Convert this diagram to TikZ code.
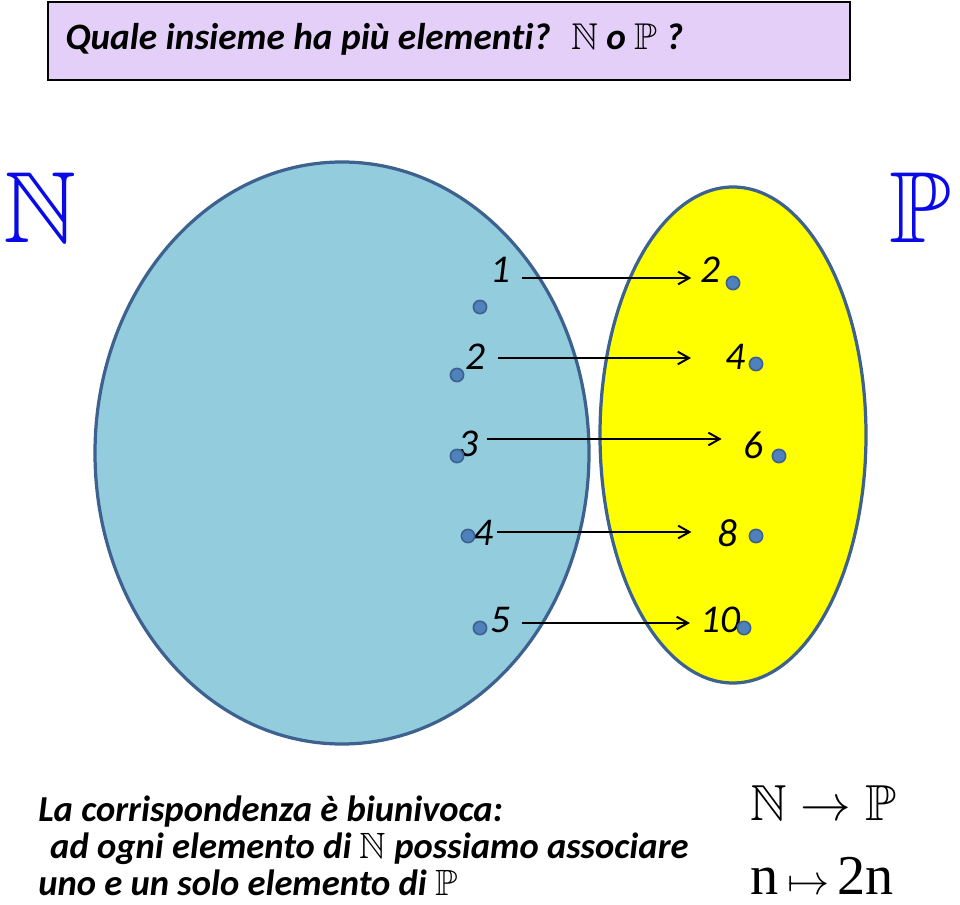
\documentclass[tikz,border=0pt]{standalone}
\usepackage{fix-cm}
\usepackage{amsmath}
\usepackage{amssymb}
\usepackage{fontspec}
\setmainfont{Carlito}[Ligatures=NoCommon]
\newfontfamily\romfont{Liberation Serif}
\usepackage{tikz}
\usetikzlibrary{positioning}
\usetikzlibrary{arrows.meta}

\definecolor{lilla}{HTML}{E3CFF8}
\definecolor{azzurro}{HTML}{93CDDD}
\definecolor{bordo}{HTML}{3D6290}
\definecolor{giallo}{HTML}{FFFF00}
\definecolor{puntino}{HTML}{4F81BD}
\definecolor{blu}{HTML}{0A0AE8}

\tikzset{
  insieme/.style={draw=bordo, line width=2.3pt},
  punto/.style={circle, draw=bordo, fill=puntino, line width=1.2pt, minimum size=0.33cm, inner sep=0pt},
  numero/.style={font=\itshape\fontsize{28}{30}\selectfont, inner sep=0pt},
  freccia/.style={-{Straight Barb[length=8pt, width=9pt]}, line width=1.4pt},
  scritta/.style={font=\bfseries\itshape\fontsize{26}{26.2}\selectfont, inner sep=0pt, anchor=base west},
  lettera/.style={inner sep=0pt, text=blu, font=\fontsize{72}{72}\selectfont}
}

\begin{document}
\begin{tikzpicture}[x=0.025cm, y=-0.025cm]
  \useasboundingbox (0,0) rectangle (960,905);

  % titolo
  \draw[fill=lilla, line width=1.4pt] (48,2) rectangle (850,80);
  \node[scritta, font=\bfseries\itshape\fontsize{26.5}{28}\selectfont] (domanda) at (65,50)
    {Quale insieme ha più elementi?\hspace{0.55em}$\mathbb{N}$ o $\mathbb{P}$ ?};

  % insiemi
  \draw[insieme, fill=azzurro] (342,453) ellipse [x radius=247, y radius=291];
  \draw[insieme, fill=giallo] (733,435) ellipse [x radius=133, y radius=248];

  \node[lettera, anchor=south west] (Ngrande) at (3,243) {$\mathbb{N}$};
  \node[lettera, anchor=south east] (Pgrande) at (952,243) {$\mathbb{P}$};

  % etichette
  \foreach \n/\x/\y in {1/500/270, 2/475/357, 3/468/444, 4/483/533, 5/500/620}
    \node[numero] (na\n) at (\x,\y) {\n};
  \foreach \n/\t/\x/\y in {1/2/710/270, 2/4/735/357, 3/6/753/445, 4/8/727/533, 5/10/720/620}
    \node[numero] (nb\n) at (\x,\y) {\t};

  % elementi
  \foreach \n/\x/\y in {1/480/307, 2/457/375, 3/457/456, 4/468/536, 5/480/628}
    \node[punto] (a\n) at (\x,\y) {};
  \foreach \n/\x/\y in {1/733/283, 2/756/364, 3/779/456, 4/756/536, 5/744/628}
    \node[punto] (b\n) at (\x,\y) {};

  % corrispondenza n -> 2n
  \foreach \n/\sa/\sb/\dy in {1/8/6/8, 2/9/24/1, 3/6/15/-5, 4/3/18/-1, 5/8/7/3} {
    \path (na\n.east) ++(0,\dy) coordinate (p\n);
    \draw[freccia, shorten <=\sa pt, shorten >=\sb pt] (p\n) -- (p\n -| nb\n.west);
  }

  % testo
  \node[scritta, anchor=north west, align=left] (biunivoca) at (38,796)
    {La corrispondenza è biunivoca:\\
     \hspace*{8.5pt}ad ogni elemento di $\mathbb{N}$ possiamo associare\\
     uno e un solo elemento di $\mathbb{P}$};

  % \node (f) at (800,850) {};
  \node[anchor=base west, inner sep=0pt, font=\fontsize{36}{40}\selectfont] (funz) at (750,820)
    {$\mathbb{N}\rightarrow\mathbb{P}$};
  \node[anchor=base west, inner sep=0pt, font=\romfont\fontsize{40}{44}\selectfont] (legge) at (750,894)
    {n\,\fontsize{30}{30}\selectfont$\mapsto$\,\fontsize{40}{44}\selectfont 2n};
\end{tikzpicture}
\end{document}
